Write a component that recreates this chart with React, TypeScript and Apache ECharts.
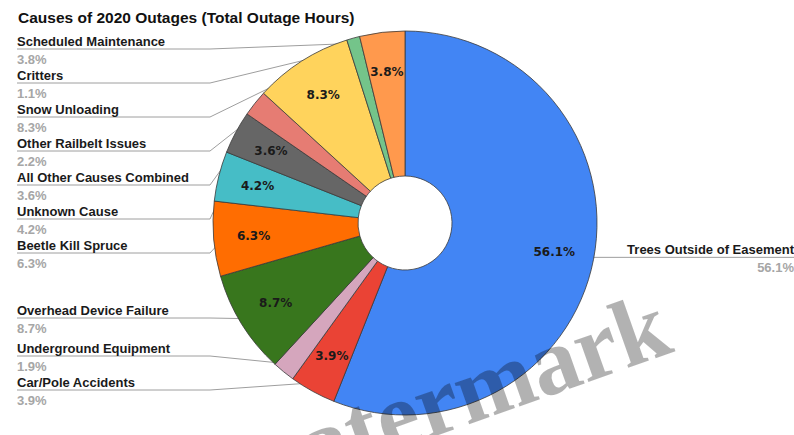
import React, { useEffect, useRef } from "react";
import * as echarts from "echarts";

const TITLE = "Causes of 2020 Outages (Total Outage Hours)";

const categories = [
  "Trees Outside of Easement",
  "Car/Pole Accidents",
  "Underground Equipment",
  "Overhead Device Failure",
  "Beetle Kill Spruce",
  "Unknown Cause",
  "All Other Causes Combined",
  "Other Railbelt Issues",
  "Snow Unloading",
  "Critters",
  "Scheduled Maintenance",
];

const values = [56.1, 3.9, 1.9, 8.7, 6.3, 4.2, 3.6, 2.2, 8.3, 1.1, 3.8];

const colors = [
  "#4285F4",
  "#EA4335",
  "#D5A6BD",
  "#38761D",
  "#FF6D01",
  "#46BDC6",
  "#666666",
  "#E67C73",
  "#FFD35C",
  "#74C48A",
  "#FF994D",
];

// label block tops for left-side labels (layout only), by data index
const LEFT_TOPS: Record<number, number> = {
  1: 373,
  2: 339,
  3: 301,
  4: 236,
  5: 202,
  6: 168,
  7: 134,
  8: 100,
  9: 66,
  10: 32,
};

export default function App() {
  const ref = useRef<HTMLDivElement>(null);

  useEffect(() => {
    if (!ref.current) return;
    const chart = echarts.init(ref.current, null, { renderer: "svg" });
    const center = [405, 223];

    const mainData = categories.map((name, i) => ({
      name,
      value: values[i],
      itemStyle: { color: colors[i] },
    }));
    const ghostData = categories.map((name, i) => ({
      name,
      value: values[i],
      itemStyle: { color: "rgba(0,0,0,0)", borderWidth: 0 },
    }));

    chart.setOption({
      animation: false,
      backgroundColor: "#ffffff",
      title: {
        text: TITLE,
        left: 13,
        top: 4,
        textStyle: {
          fontFamily: "Liberation Sans, Arial, sans-serif",
          fontWeight: "bold",
          fontSize: 15.5,
          color: "#111111",
        },
      },
      series: [
        {
          type: "pie",
          center,
          radius: [47, 192],
          startAngle: 90,
          clockwise: true,
          silent: true,
          label: { show: false },
          labelLine: { show: false },
          itemStyle: { borderColor: "#3a3a3a", borderWidth: 0.8 },
          emphasis: { disabled: true },
          data: mainData,
        },
        {
          type: "pie",
          center,
          radius: [106, 192],
          startAngle: 90,
          clockwise: true,
          silent: true,
          emphasis: { disabled: true },
          labelLine: { show: false },
          label: {
            show: true,
            position: "inside",
            fontFamily: "DejaVu Sans, Verdana, sans-serif",
            fontWeight: "bold",
            fontSize: 12,
            color: "#1a1a1a",
            formatter: (p: any) => (p.value >= 3 ? p.value.toFixed(1) + "%" : ""),
          },
          data: ghostData,
        },
        {
          type: "pie",
          center,
          radius: [0, 182],
          startAngle: 90,
          clockwise: true,
          silent: true,
          emphasis: { disabled: true },
          avoidLabelOverlap: false,
          label: {
            show: true,
            position: "outside",
            formatter: (p: any) => `{n|${p.name}}\n{v|${p.value.toFixed(1)}%}`,
            rich: {
              n: {
                fontFamily: "Liberation Sans, Arial, sans-serif",
                fontWeight: "bold",
                fontSize: 13,
                color: "#1a1a1a",
                lineHeight: 18,
              },
              v: {
                fontFamily: "Liberation Sans, Arial, sans-serif",
                fontWeight: "bold",
                fontSize: 13,
                color: "#a6a6a6",
                lineHeight: 18,
              },
            },
          },
          labelLine: {
            show: true,
            length: 10,
            length2: 10,
            lineStyle: { color: "#9e9e9e", width: 1 },
          },
          labelLayout: (params: any) => {
            const i = params.dataIndex;
            const pts = params.labelLinePoints;
            if (!pts) return {};
            const p0 = pts[0];
            if (i === 0) {
              const ly = p0[1];
              return {
                x: 794,
                y: ly - 17,
                align: "right",
                verticalAlign: "top",
                labelLinePoints: [p0, [p0[0] + 1, ly], [794, ly]],
              };
            }
            const top = LEFT_TOPS[i];
            const ly = top + 17;
            return {
              x: 17,
              y: top,
              align: "left",
              verticalAlign: "top",
              labelLinePoints: [p0, [210, ly], [17, ly]],
            };
          },
          data: ghostData,
        },
      ],
      graphic: [
        {
          type: "text",
          x: 665,
          y: 321,
          rotation: 0.34,
          silent: true,
          z: 100,
          style: {
            text: "watermark",
            fontFamily: "Liberation Serif, Times New Roman, serif",
            fontWeight: "bold",
            fontSize: 95,
            fill: "rgba(0,0,0,0.3)",
            align: "right",
            verticalAlign: "middle",
          },
        },
      ],
    });

    return () => chart.dispose();
  }, []);

  return (
    <div
      ref={ref}
      style={{ position: "fixed", left: 0, top: 0, width: 794, height: 435 }}
    />
  );
}
